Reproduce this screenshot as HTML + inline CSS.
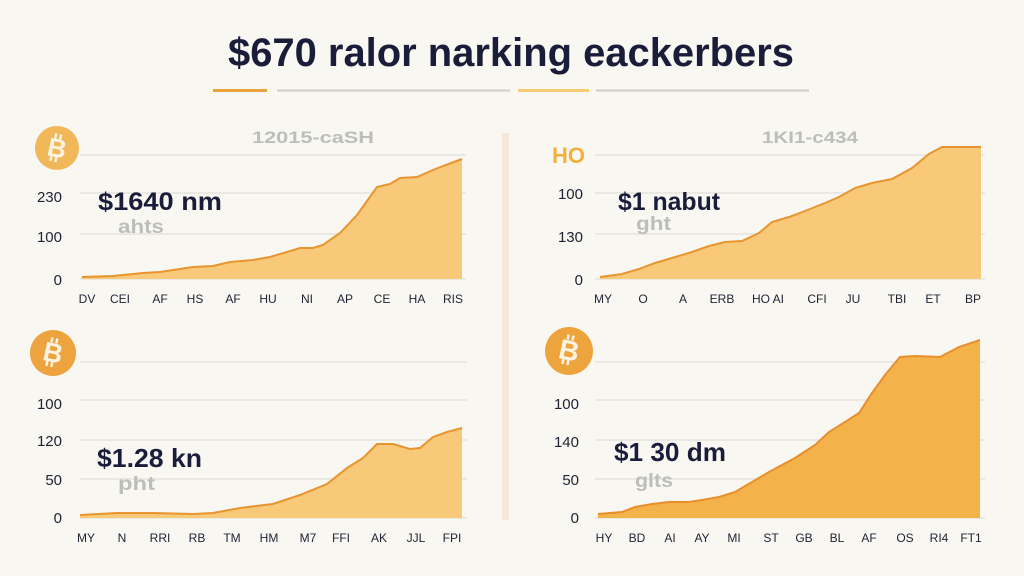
<!DOCTYPE html>
<html><head><meta charset="utf-8">
<style>
html,body{margin:0;padding:0;background:#f8f7f2;}
svg{display:block;}
text{font-family:"Liberation Sans",Arial,sans-serif;}
</style></head>
<body>
<svg width="1024" height="576" viewBox="0 0 1024 576" xmlns="http://www.w3.org/2000/svg">
<rect width="1024" height="576" fill="#f8f7f2"/>

<!-- Title -->
<text x="228" y="66" font-size="40" font-weight="bold" fill="#1a1d3a" textLength="566" lengthAdjust="spacingAndGlyphs">$670 ralor narking eackerbers</text>
<rect x="213" y="89" width="54" height="3" fill="#eaa23c"/>
<rect x="277" y="89.5" width="233" height="2" fill="#cfcdc8"/>
<rect x="518" y="89" width="71" height="3" fill="#f5cc74"/>
<rect x="596" y="89.5" width="213" height="2" fill="#cfcdc8"/>

<!-- Divider -->
<rect x="502" y="133" width="7" height="387" fill="#f8e7d6"/>

<!-- ============ TOP LEFT ============ -->
<g stroke="#e5e3dd" stroke-width="1.5">
<line x1="80" y1="155" x2="466" y2="155"/>
<line x1="80" y1="193" x2="466" y2="193"/>
<line x1="80" y1="234" x2="466" y2="234"/>
<line x1="80" y1="279" x2="466" y2="279"/>
</g>
<polygon fill="#f7c979" points="82,279 82,277 113,276 143,273 160,272 193,267 213,266 230,262 253,260 270,257 300,248 313,248 323,245 340,233 357,215 377,187 390,184 400,178 417,177 433,170 443,166 462,159 462,279"/>
<polyline fill="none" stroke="#e8952f" stroke-width="2" points="82,277 113,276 143,273 160,272 193,267 213,266 230,262 253,260 270,257 300,248 313,248 323,245 340,233 357,215 377,187 390,184 400,178 417,177 433,170 443,166 462,159"/>
<circle cx="57" cy="148" r="22" fill="#f1b859"/>
<g transform="rotate(12 57 148)" fill="#fdf3e2">
<rect x="52" y="134" width="2.5" height="5"/><rect x="57" y="134" width="2.5" height="5"/>
<rect x="52" y="157" width="2.5" height="5"/><rect x="57" y="157" width="2.5" height="5"/>
<text x="57" y="157" font-size="26" font-weight="bold" text-anchor="middle">B</text>
</g>
<text x="313" y="143" font-size="17" font-weight="bold" fill="#bdbdbb" text-anchor="middle" textLength="122" lengthAdjust="spacingAndGlyphs">12015-caSH</text>
<g font-size="15" fill="#1f2233" text-anchor="end">
<text x="62" y="202">230</text>
<text x="62" y="242">100</text>
<text x="62" y="285">0</text>
</g>
<text x="98" y="210" font-size="25" font-weight="bold" fill="#1a1d3a" textLength="124" lengthAdjust="spacingAndGlyphs">$1640 nm</text>
<text x="118" y="233" font-size="19" font-weight="bold" fill="#bdbdbb" textLength="46" lengthAdjust="spacingAndGlyphs">ahts</text>
<g font-size="12" fill="#222436" text-anchor="middle">
<text x="87" y="303">DV</text><text x="120" y="303">CEI</text><text x="160" y="303">AF</text><text x="195" y="303">HS</text><text x="233" y="303">AF</text><text x="268" y="303">HU</text><text x="307" y="303">NI</text><text x="345" y="303">AP</text><text x="382" y="303">CE</text><text x="417" y="303">HA</text><text x="453" y="303">RIS</text>
</g>

<!-- ============ TOP RIGHT ============ -->
<g stroke="#e5e3dd" stroke-width="1.5">
<line x1="595" y1="155" x2="985" y2="155"/>
<line x1="595" y1="193" x2="985" y2="193"/>
<line x1="595" y1="234" x2="985" y2="234"/>
<line x1="595" y1="279" x2="985" y2="279"/>
</g>
<polygon fill="#f7c979" points="600,279 600,277 622,274 639,269 655,263 672,258 692,252 709,246 725,242 742,241 759,233 772,222 789,217 805,211 825,203 839,197 855,188 872,183 892,179 912,168 929,154 942,147 959,147 981,147 981,279"/>
<polyline fill="none" stroke="#e8952f" stroke-width="2" points="600,277 622,274 639,269 655,263 672,258 692,252 709,246 725,242 742,241 759,233 772,222 789,217 805,211 825,203 839,197 855,188 872,183 892,179 912,168 929,154 942,147 959,147 981,147"/>
<text x="552" y="163" font-size="22" font-weight="bold" fill="#f2b13f" textLength="33" lengthAdjust="spacingAndGlyphs">HO</text>
<text x="810" y="143" font-size="17" font-weight="bold" fill="#bdbdbb" text-anchor="middle" textLength="96" lengthAdjust="spacingAndGlyphs">1KI1-c434</text>
<g font-size="15" fill="#1f2233" text-anchor="end">
<text x="583" y="199">100</text>
<text x="583" y="242">130</text>
<text x="583" y="285">0</text>
</g>
<text x="618" y="210" font-size="25" font-weight="bold" fill="#1a1d3a" textLength="102" lengthAdjust="spacingAndGlyphs">$1 nabut</text>
<text x="636" y="230" font-size="19" font-weight="bold" fill="#bdbdbb" textLength="35" lengthAdjust="spacingAndGlyphs">ght</text>
<g font-size="12" fill="#222436" text-anchor="middle">
<text x="603" y="303">MY</text><text x="643" y="303">O</text><text x="683" y="303">A</text><text x="722" y="303">ERB</text><text x="768" y="303">HO AI</text><text x="817" y="303">CFI</text><text x="853" y="303">JU</text><text x="897" y="303">TBI</text><text x="933" y="303">ET</text><text x="973" y="303">BP</text>
</g>

<!-- ============ BOTTOM LEFT ============ -->
<g stroke="#e5e3dd" stroke-width="1.5">
<line x1="80" y1="362" x2="467" y2="362"/>
<line x1="80" y1="400" x2="467" y2="400"/>
<line x1="80" y1="440" x2="467" y2="440"/>
<line x1="80" y1="479" x2="467" y2="479"/>
<line x1="80" y1="518" x2="467" y2="518"/>
</g>
<polygon fill="#f7c979" points="80,518 80,515 117,513 153,513 193,514 213,513 240,508 273,504 300,495 327,484 347,468 363,458 377,444 393,444 410,449 420,448 433,437 447,432 462,428 462,518"/>
<polyline fill="none" stroke="#e8952f" stroke-width="2" points="80,515 117,513 153,513 193,514 213,513 240,508 273,504 300,495 327,484 347,468 363,458 377,444 393,444 410,449 420,448 433,437 447,432 462,428"/>
<circle cx="53" cy="353" r="23" fill="#eda33e"/>
<g transform="rotate(12 53 353)" fill="#fdf3e2">
<rect x="48" y="338" width="2.5" height="5"/><rect x="53" y="338" width="2.5" height="5"/>
<rect x="48" y="362" width="2.5" height="5"/><rect x="53" y="362" width="2.5" height="5"/>
<text x="53" y="362" font-size="27" font-weight="bold" text-anchor="middle">B</text>
</g>
<g font-size="15" fill="#1f2233" text-anchor="end">
<text x="62" y="409">100</text>
<text x="62" y="446">120</text>
<text x="62" y="485">50</text>
<text x="62" y="523">0</text>
</g>
<text x="97" y="467" font-size="26" font-weight="bold" fill="#1a1d3a" textLength="105" lengthAdjust="spacingAndGlyphs">$1.28 kn</text>
<text x="118" y="490" font-size="19" font-weight="bold" fill="#bdbdbb" textLength="37" lengthAdjust="spacingAndGlyphs">pht</text>
<g font-size="12" fill="#222436" text-anchor="middle">
<text x="86" y="542">MY</text><text x="122" y="542">N</text><text x="160" y="542">RRI</text><text x="197" y="542">RB</text><text x="232" y="542">TM</text><text x="269" y="542">HM</text><text x="308" y="542">M7</text><text x="341" y="542">FFI</text><text x="379" y="542">AK</text><text x="416" y="542">JJL</text><text x="452" y="542">FPI</text>
</g>

<!-- ============ BOTTOM RIGHT ============ -->
<g stroke="#e5e3dd" stroke-width="1.5">
<line x1="595" y1="362" x2="985" y2="362"/>
<line x1="595" y1="400" x2="985" y2="400"/>
<line x1="595" y1="440" x2="985" y2="440"/>
<line x1="595" y1="479" x2="985" y2="479"/>
<line x1="595" y1="518" x2="985" y2="518"/>
</g>
<polygon fill="#f4b24b" points="598,518 598,514 622,512 635,507 652,504 669,502 689,502 702,500 719,497 735,492 752,482 769,472 795,458 815,445 829,432 845,422 859,413 872,393 885,375 900,357 915,356 940,357 959,347 980,340 980,518"/>
<polyline fill="none" stroke="#e88f2b" stroke-width="2" points="598,514 622,512 635,507 652,504 669,502 689,502 702,500 719,497 735,492 752,482 769,472 795,458 815,445 829,432 845,422 859,413 872,393 885,375 900,357 915,356 940,357 959,347 980,340"/>
<circle cx="569" cy="351" r="24" fill="#eda43c"/>
<g transform="rotate(12 569 351)" fill="#fdf3e2">
<rect x="564" y="335" width="2.5" height="5"/><rect x="569" y="335" width="2.5" height="5"/>
<rect x="564" y="360" width="2.5" height="5"/><rect x="569" y="360" width="2.5" height="5"/>
<text x="569" y="360" font-size="28" font-weight="bold" text-anchor="middle">B</text>
</g>
<g font-size="15" fill="#1f2233" text-anchor="end">
<text x="579" y="409">100</text>
<text x="579" y="447">140</text>
<text x="579" y="485">50</text>
<text x="579" y="523">0</text>
</g>
<text x="614" y="461" font-size="26" font-weight="bold" fill="#1a1d3a" textLength="112" lengthAdjust="spacingAndGlyphs">$1 30 dm</text>
<text x="635" y="487" font-size="19" font-weight="bold" fill="#bdbdbb" textLength="38" lengthAdjust="spacingAndGlyphs">glts</text>
<g font-size="12" fill="#222436" text-anchor="middle">
<text x="604" y="542">HY</text><text x="637" y="542">BD</text><text x="670" y="542">AI</text><text x="702" y="542">AY</text><text x="734" y="542">MI</text><text x="771" y="542">ST</text><text x="804" y="542">GB</text><text x="837" y="542">BL</text><text x="869" y="542">AF</text><text x="905" y="542">OS</text><text x="939" y="542">RI4</text><text x="971" y="542">FT1</text>
</g>
</svg>
</body></html>
